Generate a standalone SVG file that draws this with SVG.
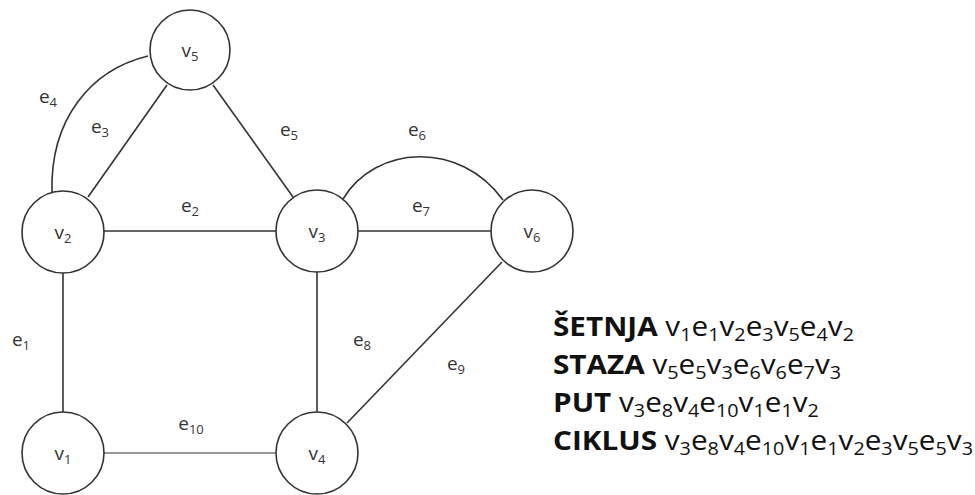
<svg xmlns="http://www.w3.org/2000/svg" width="975" height="495" viewBox="0 0 975 495">
<style>
.n{fill:#fff;stroke:#333;stroke-width:1.6}
.e{fill:none;stroke:#333;stroke-width:1.6}
.t{font-family:"Open Sans","Liberation Sans",sans-serif;font-size:19px;fill:#333;text-anchor:middle}
.s{font-size:13px}
.l{font-family:"Open Sans","Liberation Sans",sans-serif;font-size:27px;fill:#111}
.b{font-weight:bold}
.ls{font-size:18px}
</style>
<rect width="975" height="495" fill="#fff"/>
<g id="edges">
<line class="e" x1="63" y1="273" x2="63" y2="413"/>
<line class="e" x1="104" y1="231" x2="276" y2="231"/>
<line class="e" x1="88" y1="197" x2="167" y2="85"/>
<path class="e" d="M52,192 C50,120 90,70 148,56"/>
<line class="e" x1="213" y1="85" x2="293" y2="197"/>
<path class="e" d="M343,199 C375,145 460,140 503,200"/>
<line class="e" x1="358" y1="231" x2="491" y2="231"/>
<line class="e" x1="317" y1="272" x2="317" y2="413"/>
<line class="e" x1="502" y1="262" x2="347" y2="423"/>
<line class="e" x1="104" y1="453" x2="276" y2="453" style="stroke-width:1.1"/>
<text class="t" x="48" y="103">e<tspan class="s" dy="4">4</tspan></text>
<text class="t" x="100" y="133">e<tspan class="s" dy="4">3</tspan></text>
<text class="t" x="289" y="136">e<tspan class="s" dy="4">5</tspan></text>
<text class="t" x="190" y="212">e<tspan class="s" dy="4">2</tspan></text>
<text class="t" x="417" y="136">e<tspan class="s" dy="4">6</tspan></text>
<text class="t" x="421" y="212">e<tspan class="s" dy="4">7</tspan></text>
<text class="t" x="21" y="346">e<tspan class="s" dy="4">1</tspan></text>
<text class="t" x="362" y="346">e<tspan class="s" dy="4">8</tspan></text>
<text class="t" x="456" y="370">e<tspan class="s" dy="4">9</tspan></text>
<text class="t" x="191" y="430">e<tspan class="s" dy="4">10</tspan></text>
</g>
<g id="v5"><circle class="n" cx="190" cy="50" r="40"/><text class="t" x="190" y="57">v<tspan class="s" dy="4">5</tspan></text></g>
<g id="v2"><circle class="n" cx="63" cy="232" r="41"/><text class="t" x="63" y="239">v<tspan class="s" dy="4">2</tspan></text></g>
<g id="v3"><circle class="n" cx="317" cy="231" r="41"/><text class="t" x="317" y="238">v<tspan class="s" dy="4">3</tspan></text></g>
<g id="v6"><circle class="n" cx="532" cy="231" r="41"/><text class="t" x="532" y="238">v<tspan class="s" dy="4">6</tspan></text></g>
<g id="v1"><circle class="n" cx="63" cy="453" r="41"/><text class="t" x="63" y="460">v<tspan class="s" dy="4">1</tspan></text></g>
<g id="v4"><circle class="n" cx="317" cy="453" r="41"/><text class="t" x="317" y="460">v<tspan class="s" dy="4">4</tspan></text></g>
<g id="legend" transform="translate(553 0) scale(1.1 1)">
<text class="l" x="0" y="336"><tspan class="b">ŠETNJA</tspan> v<tspan class="ls" dy="5">1</tspan><tspan dy="-5">e</tspan><tspan class="ls" dy="5">1</tspan><tspan dy="-5">v</tspan><tspan class="ls" dy="5">2</tspan><tspan dy="-5">e</tspan><tspan class="ls" dy="5">3</tspan><tspan dy="-5">v</tspan><tspan class="ls" dy="5">5</tspan><tspan dy="-5">e</tspan><tspan class="ls" dy="5">4</tspan><tspan dy="-5">v</tspan><tspan class="ls" dy="5">2</tspan></text>
<text class="l" x="0" y="374"><tspan class="b">STAZA</tspan> v<tspan class="ls" dy="5">5</tspan><tspan dy="-5">e</tspan><tspan class="ls" dy="5">5</tspan><tspan dy="-5">v</tspan><tspan class="ls" dy="5">3</tspan><tspan dy="-5">e</tspan><tspan class="ls" dy="5">6</tspan><tspan dy="-5">v</tspan><tspan class="ls" dy="5">6</tspan><tspan dy="-5">e</tspan><tspan class="ls" dy="5">7</tspan><tspan dy="-5">v</tspan><tspan class="ls" dy="5">3</tspan></text>
<text class="l" x="0" y="412"><tspan class="b">PUT</tspan> v<tspan class="ls" dy="5">3</tspan><tspan dy="-5">e</tspan><tspan class="ls" dy="5">8</tspan><tspan dy="-5">v</tspan><tspan class="ls" dy="5">4</tspan><tspan dy="-5">e</tspan><tspan class="ls" dy="5">10</tspan><tspan dy="-5">v</tspan><tspan class="ls" dy="5">1</tspan><tspan dy="-5">e</tspan><tspan class="ls" dy="5">1</tspan><tspan dy="-5">v</tspan><tspan class="ls" dy="5">2</tspan></text>
<text class="l" x="0" y="450"><tspan class="b">CIKLUS</tspan> v<tspan class="ls" dy="5">3</tspan><tspan dy="-5">e</tspan><tspan class="ls" dy="5">8</tspan><tspan dy="-5">v</tspan><tspan class="ls" dy="5">4</tspan><tspan dy="-5">e</tspan><tspan class="ls" dy="5">10</tspan><tspan dy="-5">v</tspan><tspan class="ls" dy="5">1</tspan><tspan dy="-5">e</tspan><tspan class="ls" dy="5">1</tspan><tspan dy="-5">v</tspan><tspan class="ls" dy="5">2</tspan><tspan dy="-5">e</tspan><tspan class="ls" dy="5">3</tspan><tspan dy="-5">v</tspan><tspan class="ls" dy="5">5</tspan><tspan dy="-5">e</tspan><tspan class="ls" dy="5">5</tspan><tspan dy="-5">v</tspan><tspan class="ls" dy="5">3</tspan></text>
</g>
</svg>
